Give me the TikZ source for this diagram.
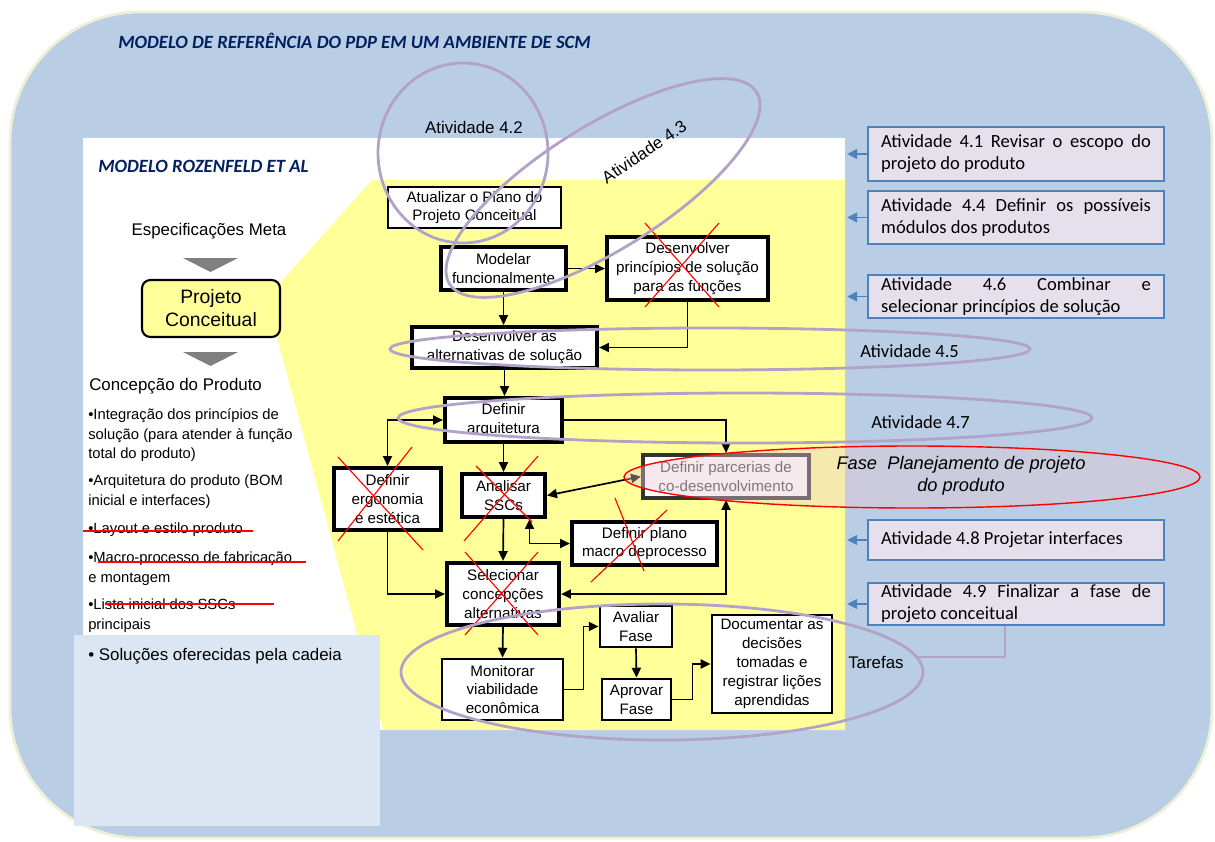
\documentclass[tikz,border=0pt]{standalone}
\usepackage{fontspec}
\setmainfont{Liberation Sans}
\newfontfamily\calibri{Carlito}
\usetikzlibrary{arrows.meta}
\definecolor{fundo}{RGB}{185,205,229}
\definecolor{borda}{RGB}{235,240,215}
\definecolor{amarelo}{RGB}{255,255,153}
\definecolor{caixaclara}{RGB}{220,230,242}
\definecolor{lilas}{RGB}{229,224,236}
\definecolor{azul}{RGB}{79,129,189}
\definecolor{marinho}{RGB}{0,32,96}
\definecolor{roxo}{RGB}{179,162,199}
\definecolor{rosado}{RGB}{230,200,210}
\newcommand{\corte}[4]{\draw[corte] ( #1 , #2 ) -- ( #3 , #4 );}
\tikzset{
  passo/.style={draw, fill=white, line width=2pt, align=center, inner sep=1pt, font=\fontsize{10.8}{13.4}\selectfont},
  passogrosso/.style={passo, line width=3pt},
  seta/.style={-{Triangle[length=7pt,width=6.5pt]}, line width=1.2pt},
  setadupla/.style={{Triangle[length=7pt,width=6.5pt]}-{Triangle[length=7pt,width=6.5pt]}, line width=1.2pt},
  atividade/.style={draw=azul, fill=lilas, line width=1pt, text width=6.74cm, inner xsep=0.33cm, inner ysep=1pt, align=justify, font=\calibri\fontsize{13.2}{15.6}\selectfont},
  setaazul/.style={-{Triangle[length=7pt,width=7pt]}, azul, line width=1.2pt},
  elipse/.style={roxo, line width=2pt},
  corte/.style={red, line width=0.8pt},
  titulo/.style={anchor=west, inner sep=0, text=marinho, font=\calibri\bfseries\itshape\fontsize{13.3}{16}\selectfont},
  item/.style={anchor=west, inner sep=0, align=left, font=\fontsize{10.5}{13.9}\selectfont}
}

\begin{document}
\begin{tikzpicture}[x=0.025cm, y=-0.025cm]
        \useasboundingbox (0,0) rectangle (1215,841);
        % background
        \draw[fill=fundo, draw=borda, line width=2pt, rounded corners=3.25cm] (10,12) rectangle (1212,838);
        \fill[white] (83,138) rectangle (845,730);
        \fill[amarelo] (280,283) -- (372,180) -- (845,180) -- (845,730) -- (383,730) -- (277,337) -- cycle;
        \fill[caixaclara] (74,635) rectangle (380,826);
        \node[titulo] (tit) at (118,41) {MODELO DE REFERÊNCIA DO PDP EM UM AMBIENTE DE SCM};
        \node[titulo] (roz) at (98,166) {MODELO ROZENFELD ET AL};
        % left column
        \node[inner sep=0, font=\fontsize{12}{14}\selectfont] (espec) at (209,231) {Especificações Meta};
        \fill[gray] (183,258) -- (238,258) -- (210.5,272) -- cycle;
        \node[draw, fill=amarelo, line width=1.5pt, rounded corners=6pt, minimum width=3.45cm, minimum height=1.425cm,
              align=center, font=\fontsize{13.8}{16.4}\selectfont] (pc) at (211,308.5) {Projeto\\Conceitual};
        \fill[gray] (183,352) -- (238,352) -- (210.5,366) -- cycle;
        \node[anchor=west, inner sep=0, font=\fontsize{12}{14}\selectfont] (concep) at (89,386) {Concepção do Produto};
        \node[item] (i1) at (88,435.5) {\textbullet Integração dos princípios de\\solução (para atender à função\\total do produto)};
        \node[item] (i2) at (88,491.5) {\textbullet Arquitetura do produto (BOM\\inicial e interfaces)};
        \node[item] (i3) at (88,530) {\textbullet Layout e estilo produto};
        \node[item] (i4) at (88,568.5) {\textbullet Macro-processo de fabricação\\e montagem};
        \node[item] (i5) at (88,615.5) {\textbullet Lista inicial dos SSCs\\principais};
        \corte{83}{531}{253}{531}
        \corte{98}{562}{306}{562}
        \corte{105}{604}{274}{604}
        \node[anchor=west, inner sep=0, font=\fontsize{12}{14}\selectfont] (solu) at (88,656) {\textbullet{} Soluções oferecidas pela cadeia};
        % flow boxes
        \node[passo, minimum width=4.325cm, minimum height=1.025cm] (atual) at (474.5,207.5) {Atualizar o Plano do\\Projeto Conceitual};
        \node[passogrosso, minimum width=3.125cm, minimum height=1.075cm] (modelar) at (503.5,268.5) {Modelar\\funcionalmente};
        \node[passogrosso, minimum width=4.025cm, minimum height=1.575cm] (princ) at (687.5,268.5) {Desenvolver\\princípios de solução\\para as funções};
        \node[passogrosso, minimum width=4.625cm, minimum height=1.025cm] (altern) at (504.5,347.5) {Desenvolver as\\alternativas de solução};
        \node[passogrosso, minimum width=2.925cm, minimum height=1.1cm] (arq) at (503.5,420) {Definir\\arquitetura};
        \node[passogrosso, minimum width=2.675cm, minimum height=1.55cm] (ergo) at (387.5,499) {Definir\\ergonomia\\e estética};
        \node[passogrosso, minimum width=2.075cm, minimum height=1.075cm] (ssc) at (503.5,495.5) {Analisar\\SSCs};
        \node[passogrosso, draw=black!80, text=black!75, minimum width=4.15cm, minimum height=1.075cm] (parc) at (726,476.5) {Definir parcerias de\\co-desenvolvimento};
        \node[passogrosso, minimum width=3.625cm, minimum height=1.075cm] (plano) at (644.5,543.5) {Definir plano\\macro deprocesso};
        \node[passogrosso, minimum width=2.8cm, minimum height=1.55cm] (selec) at (503,594) {Selecionar\\concepções\\alternativas};
        \node[passo, minimum width=3.025cm, minimum height=1.525cm] (monit) at (502.5,689.5) {Monitorar\\viabilidade\\econômica};
        \node[passo, minimum width=1.8cm, minimum height=1.025cm] (avaliar) at (636,626.5) {Avaliar\\Fase};
        \node[passo, minimum width=1.725cm, minimum height=1.025cm] (aprovar) at (636.5,699.5) {Aprovar\\Fase};
        \node[passo, minimum width=3cm, minimum height=2.45cm] (docum) at (772,664) {Documentar as\\decisões\\tomadas e\\registrar lições\\aprendidas};
        % arrows
        \draw[seta] (modelar.east) -- (princ.west);
        \draw[seta] (modelar.south) -- (modelar.south |- altern.north);
        \draw[seta] (princ.south) |- (altern.east);
        \draw[seta] (altern.south) -- (altern.south |- arq.north);
        \draw[setadupla] (ergo.north) |- (arq.west);
        \draw[seta] (arq.east) -| (parc.north);
        \draw[seta] (arq.south) -- (ssc.north);
        \draw[setadupla] (ssc.east) -- (parc.west);
        \draw[setadupla] ([xshift=0.65cm]ssc.south) |- (plano.west);
        \draw[seta] (ssc.south) -- (selec.north);
        \draw[seta] (ergo.south) |- (selec.west);
        \draw[setadupla] (selec.east) -| (parc.south);
        \draw[seta] (selec.south) -- (monit.north);
        \draw[seta] (monit.east) -- +(19,0) |- (avaliar.west);
        \draw[seta] (avaliar.south) -- (aprovar.north);
        \draw[seta] (aprovar.east) -- +(20,0) |- (docum.west);
        % crosses
        \corte{645}{223}{719}{307}
        \corte{719}{223}{645}{307}
        \corte{338}{457}{423}{550}
        \corte{412}{447}{338}{541}
        \corte{476}{466}{532}{522}
        \corte{538}{456}{464}{541}
        \corte{465}{552}{538}{635}
        \corte{538}{552}{465}{635}
        \corte{615}{498}{644}{571}
        \corte{667}{510}{591}{582}
        % activities
        \node[atividade, minimum height=1.35cm] (b41) at (1016,154) {Atividade 4.1 Revisar o escopo do\linebreak projeto do produto};
        \node[atividade, minimum height=1.325cm] (b44) at (1016,217.5) {Atividade 4.4 Definir os possíveis\linebreak módulos dos produtos};
        \node[atividade, minimum height=1.075cm] (b46) at (1016,296.5) {Atividade 4.6 Combinar e\linebreak selecionar princípios de solução};
        \node[atividade, minimum height=1cm] (b48) at (1016,540) {Atividade 4.8 Projetar interfaces};
        \node[atividade, minimum height=1.05cm] (b49) at (1016,604) {Atividade 4.9 Finalizar a fase de\linebreak projeto conceitual};
        \draw[setaazul] (b41.west) -- +(-20,0);
        \draw[setaazul] (b44.west) -- +(-20,0);
        \draw[setaazul] (b46.west) -- +(-20,0);
        \draw[setaazul] (b48.west) -- +(-20,0);
        \draw[setaazul] (b49.west) -- +(-20,0);
        % ellipses
        \draw[red, line width=1pt, fill=rosado, fill opacity=0.4] (912,477) ellipse [x radius=288, y radius=31];
        \draw[elipse] (463,153) ellipse [x radius=85, y radius=90];
        \draw[elipse, rotate around={32:(603,188)}] (603,188) ellipse [x radius=181, y radius=62];
        \draw[elipse] (710,349) ellipse [x radius=320, y radius=21];
        \draw[elipse] (745,418) ellipse [x radius=347, y radius=25];
        \draw[elipse] (662,672) ellipse [x radius=261, y radius=68];
        \coordinate (tarefaslinha) at (915,657);
        \draw[roxo, line width=2pt] ([xshift=-0.275cm]b49.south) |- (tarefaslinha);
        \node[inner sep=0, font=\fontsize{12}{14}\selectfont] (a42) at (474,127) {Atividade 4.2};
        \node[inner sep=0, rotate=34, font=\fontsize{12}{14}\selectfont] (a43) at (644,152) {Atividade 4.3};
        \node[anchor=west, inner sep=0, font=\calibri\fontsize{13.2}{15}\selectfont] (a45) at (860,351) {Atividade 4.5};
        \node[anchor=west, inner sep=0, font=\calibri\fontsize{13.2}{15}\selectfont] (a47) at (871,422) {Atividade 4.7};
        \node[inner sep=0, align=center, font=\itshape\fontsize{13}{15.6}\selectfont] (fase) at (961,476) {Fase\ \ Planejamento de projeto\\do produto};
        \node[anchor=west, inner sep=0, font=\fontsize{12}{14}\selectfont] (tarefas) at (848,662) {Tarefas};
    \end{tikzpicture}
\end{document}
